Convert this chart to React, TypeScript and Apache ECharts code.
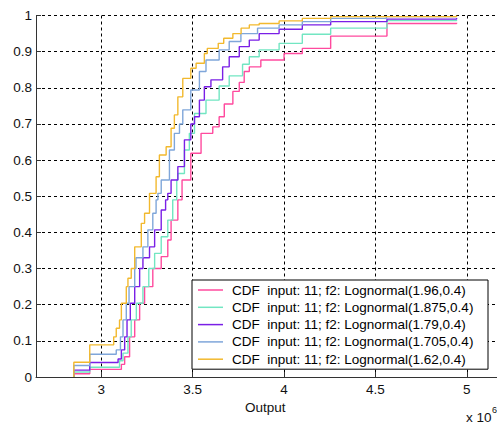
import React, { useEffect, useRef } from "react";
import * as echarts from "echarts";

// Empirical CDF step points: [output (x 10^6), cumulative probability]
const cdf196: number[][] = [
  [2.85, 0], [2.85, 0.009], [2.937, 0.021], [3.11, 0.035], [3.128, 0.056], [3.155, 0.111],
  [3.183, 0.158], [3.21, 0.204], [3.237, 0.25], [3.282, 0.3], [3.328, 0.333], [3.364, 0.379],
  [3.382, 0.434], [3.419, 0.49], [3.442, 0.545], [3.49, 0.619], [3.546, 0.674], [3.61, 0.692],
  [3.645, 0.72], [3.673, 0.755], [3.72, 0.79], [3.755, 0.815], [3.782, 0.845], [3.81, 0.858],
  [3.873, 0.877], [4.0, 0.895], [4.1, 0.909], [4.255, 0.943], [4.563, 0.978], [4.944, 0.98],
];
const cdf1875: number[][] = [
  [2.85, 0], [2.85, 0.014], [2.937, 0.027], [3.1, 0.045], [3.119, 0.066], [3.146, 0.111],
  [3.164, 0.158], [3.192, 0.204], [3.228, 0.25], [3.26, 0.3], [3.292, 0.342], [3.328, 0.388],
  [3.364, 0.434], [3.391, 0.49], [3.413, 0.545], [3.419, 0.563], [3.455, 0.628], [3.482, 0.674],
  [3.51, 0.729], [3.573, 0.766], [3.645, 0.805], [3.7, 0.833], [3.773, 0.865], [3.81, 0.886],
  [3.864, 0.905], [3.973, 0.923], [4.1, 0.948], [4.255, 0.965], [4.563, 0.986], [4.944, 0.988],
];
const cdf179: number[][] = [
  [2.85, 0], [2.85, 0.019], [2.937, 0.04], [3.092, 0.05], [3.11, 0.075], [3.128, 0.111],
  [3.141, 0.158], [3.159, 0.204], [3.183, 0.25], [3.21, 0.3], [3.228, 0.33], [3.264, 0.36],
  [3.292, 0.407], [3.328, 0.462], [3.352, 0.49], [3.364, 0.508], [3.382, 0.545], [3.419, 0.582],
  [3.455, 0.656], [3.49, 0.7], [3.51, 0.72], [3.537, 0.766], [3.564, 0.803], [3.6, 0.822],
  [3.664, 0.858], [3.7, 0.886], [3.755, 0.914], [3.81, 0.932], [3.864, 0.95], [3.973, 0.962],
  [4.1, 0.974], [4.255, 0.983], [4.563, 0.99], [4.944, 0.993],
];
const cdf1705: number[][] = [
  [2.85, 0], [2.85, 0.032], [2.937, 0.063], [3.082, 0.075], [3.105, 0.111], [3.119, 0.158],
  [3.137, 0.204], [3.152, 0.25], [3.183, 0.3], [3.19, 0.33], [3.228, 0.36], [3.255, 0.407],
  [3.282, 0.453], [3.3, 0.49], [3.31, 0.508], [3.328, 0.545], [3.373, 0.628], [3.4, 0.674],
  [3.428, 0.7], [3.446, 0.739], [3.49, 0.794], [3.537, 0.845], [3.573, 0.877], [3.645, 0.905],
  [3.7, 0.928], [3.764, 0.95], [3.855, 0.965], [3.973, 0.974], [4.1, 0.983], [4.255, 0.992],
  [4.56, 0.997], [4.944, 0.998],
];
const cdf162: number[][] = [
  [2.85, 0], [2.85, 0.041], [2.937, 0.089], [3.068, 0.111], [3.082, 0.135], [3.1, 0.158],
  [3.11, 0.204], [3.137, 0.25], [3.146, 0.273], [3.164, 0.3], [3.183, 0.36], [3.219, 0.425],
  [3.237, 0.453], [3.264, 0.508], [3.3, 0.554], [3.318, 0.614], [3.355, 0.637], [3.382, 0.688],
  [3.4, 0.725], [3.419, 0.775], [3.446, 0.826], [3.49, 0.854], [3.519, 0.868], [3.564, 0.895],
  [3.58, 0.909], [3.64, 0.923], [3.67, 0.937], [3.72, 0.95], [3.765, 0.965], [3.81, 0.974],
  [3.864, 0.978], [3.973, 0.985], [4.1, 0.992], [4.255, 0.997], [4.944, 1.0],
];

const seriesNames = [
  "CDF  input: 11; f2: Lognormal(1.96,0.4)",
  "CDF  input: 11; f2: Lognormal(1.875,0.4)",
  "CDF  input: 11; f2: Lognormal(1.79,0.4)",
  "CDF  input: 11; f2: Lognormal(1.705,0.4)",
  "CDF  input: 11; f2: Lognormal(1.62,0.4)",
];
const seriesData = [cdf196, cdf1875, cdf179, cdf1705, cdf162];
const seriesColors = ["#ff4a9e", "#72e6c2", "#7a1fe6", "#7fa6da", "#f2b92e"];

const FONT = "'Liberation Sans', Arial, sans-serif";

export default function App() {
  const ref = useRef<HTMLDivElement>(null);
  useEffect(() => {
    const chart = echarts.init(ref.current!, null, { renderer: "svg" });
    chart.setOption({
      animation: false,
      backgroundColor: "#ffffff",
      grid: { left: 36, top: 15.5, width: 463, height: 361.5, containLabel: false },
      xAxis: {
        type: "value",
        min: 2.643,
        max: 5.165,
        splitNumber: 5,
        axisLine: { show: true, lineStyle: { color: "#333", width: 1 } },
        axisTick: { show: true, inside: true, length: 5, lineStyle: { color: "#333" } },
        axisLabel: {
          color: "#111",
          fontFamily: FONT,
          fontSize: 13.5,
          margin: 5,
          showMinLabel: false,
          showMaxLabel: false,
          formatter: (v: number) =>
            Math.abs(v * 2 - Math.round(v * 2)) < 1e-6 ? String(+v.toFixed(1)) : "",
        },
        splitLine: { show: true, lineStyle: { color: "#000", type: [3, 3], width: 1 } },
      },
      yAxis: {
        type: "value",
        min: 0,
        max: 1,
        interval: 0.1,
        axisLine: { show: true, lineStyle: { color: "#333", width: 1 } },
        axisTick: { show: true, inside: true, length: 5, lineStyle: { color: "#333" } },
        axisLabel: {
          color: "#111",
          fontFamily: FONT,
          fontSize: 13.5,
          margin: 4,
          formatter: (v: number) => String(+v.toFixed(1)),
        },
        splitLine: { show: true, lineStyle: { color: "#000", type: [3, 3], width: 1 } },
      },
      legend: {
        orient: "vertical",
        left: 192,
        top: 280,
        padding: [3, 6, 3, 6],
        icon: "rect",
        itemWidth: 25,
        itemHeight: 1.5,
        itemGap: 3.3,
        backgroundColor: "#ffffff",
        borderColor: "#000",
        borderWidth: 1,
        borderRadius: 0,
        data: seriesNames,
        textStyle: {
          color: "#000",
          fontFamily: FONT,
          fontSize: 13.5,
          lineHeight: 14,
          height: 14,
          width: 250,
          padding: [0, 0, 0, 4],
        },
      },
      graphic: [
        {
          type: "text",
          left: 245,
          top: 400,
          style: { text: "Output", fontFamily: FONT, fontSize: 13.5, fill: "#111" },
        },
        {
          type: "text",
          left: 466,
          top: 410,
          style: { text: "x 10", fontFamily: FONT, fontSize: 13.5, fill: "#111" },
        },
        {
          type: "text",
          left: 492,
          top: 405,
          style: { text: "6", fontFamily: FONT, fontSize: 9, fill: "#111" },
        },
      ],
      series: seriesNames.map((name, i) => ({
        name,
        type: "line",
        step: "end",
        symbol: "none",
        showSymbol: false,
        data: seriesData[i],
        lineStyle: { color: seriesColors[i], width: 1.4 },
        itemStyle: { color: seriesColors[i] },
        z: 2 + i,
      })),
    });
    return () => chart.dispose();
  }, []);
  return (
    <div
      ref={ref}
      style={{ position: "absolute", left: 0, top: 0, width: 497, height: 423, background: "#fff" }}
    />
  );
}
